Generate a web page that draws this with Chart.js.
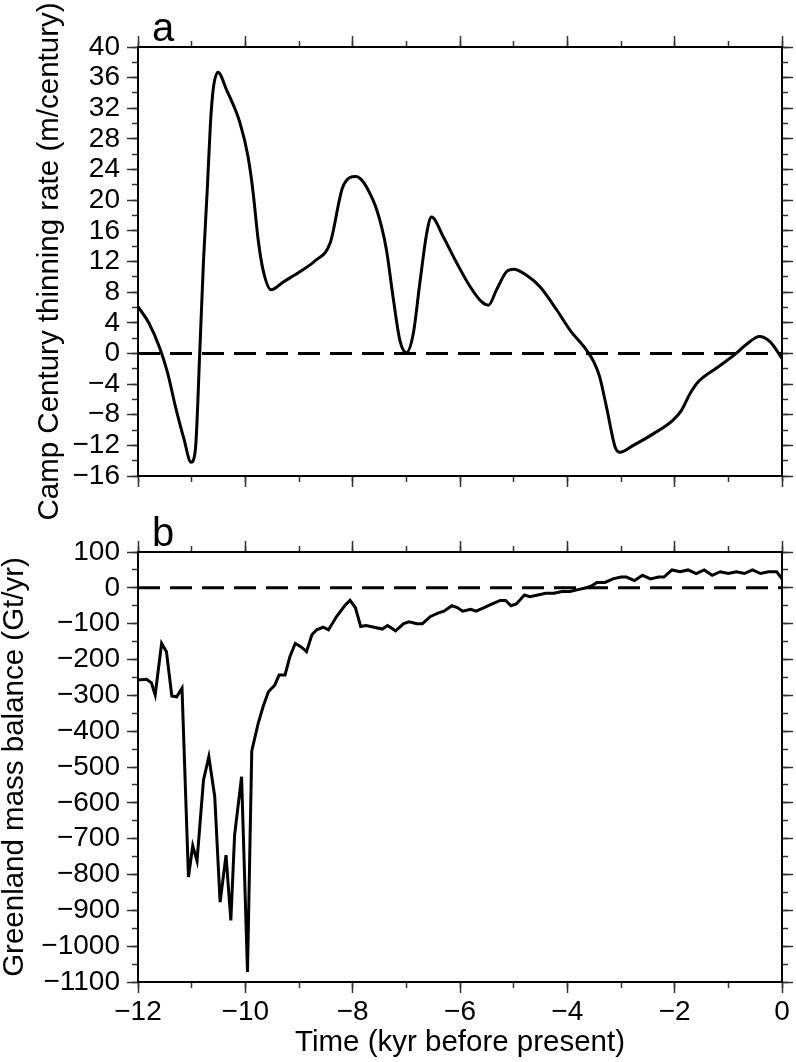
<!DOCTYPE html>
<html>
<head>
<meta charset="utf-8">
<title>Camp Century thinning rate and Greenland mass balance</title>
<script src="https://cdn.jsdelivr.net/npm/chart.js@4.4.1/dist/chart.umd.min.js"></script>
<style>
  html, body { margin: 0; padding: 0; background: #fff; }
  #wrap { position: relative; width: 796px; height: 1062px; }
  canvas { position: absolute; left: 0; }
  #chart-a { top: 0; }
  #chart-b { top: 500px; }
</style>
</head>
<body>
<div id="wrap">
  <canvas id="chart-a" width="796" height="530"></canvas>
  <canvas id="chart-b" width="796" height="562"></canvas>
</div>
<script>
// panel a: Camp Century thinning rate (m/century)
const thinTime = [-12, -11.8, -11.6, -11.45, -11.3, -11.15, -11.01, -10.93, -10.85, -10.78, -10.71,
  -10.65, -10.6, -10.51, -10.35, -10.1, -9.95, -9.86, -9.76, -9.67, -9.52, -9.3, -9.0, -8.7,
  -8.42, -8.18, -7.94, -7.62, -7.46, -7.37, -7.24, -7.12, -7.0, -6.87, -6.75, -6.62, -6.53,
  -6.31, -6.06, -5.81, -5.6, -5.47, -5.32, -5.13, -5.0, -4.76, -4.51, -4.2, -3.95, -3.64,
  -3.5, -3.4, -3.27, -3.11, -3.02, -2.77, -2.4, -2.03, -1.87, -1.71, -1.56, -1.22, -0.87,
  -0.66, -0.42, -0.22, 0];
const thinRate = [6.1, 4.0, 0.8, -2.5, -7, -11, -14.2, -12.5, 0, 12, 21.3,
  30, 34.4, 36.7, 34.4, 30.1, 25.7, 21.3, 14.8, 10.9, 8.3, 9.3, 10.6, 12.1,
  14.4, 21.8, 23.1, 20.0, 16.5, 13.5, 7.0, 1.7, 0.1, 2.6, 9.1, 15.7, 17.8,
  15.2, 11.8, 8.7, 6.75, 6.3, 8.3, 10.7, 11.0, 10.2, 8.7, 5.7, 3.05, 0.4,
  -1.2, -3.0, -7.0, -12.2, -12.9, -12.0, -10.5, -8.7, -7.4, -5.2, -3.7, -1.9, -0.1,
  1.2, 2.2, 1.5, -0.65];

// panel b: Greenland mass balance (Gt/yr)
const massTime = [-12, -11.84, -11.75, -11.68, -11.56, -11.47, -11.37, -11.28, -11.18, -11.06,
  -10.98, -10.9, -10.78, -10.68, -10.57, -10.47, -10.36, -10.27, -10.2, -10.07, -9.96, -9.88,
  -9.76, -9.67, -9.57, -9.45, -9.37, -9.26, -9.17, -9.07, -8.96, -8.86, -8.76, -8.67, -8.55,
  -8.45, -8.3, -8.15, -8.05, -7.95, -7.85, -7.75, -7.6, -7.45, -7.35, -7.2, -7.05, -6.95,
  -6.8, -6.7, -6.55, -6.4, -6.3, -6.15, -6.05, -5.95, -5.8, -5.7, -5.55, -5.4, -5.25, -5.15,
  -5.05, -4.95, -4.8, -4.7, -4.55, -4.4, -4.25, -4.1, -3.95, -3.8, -3.65, -3.55, -3.45, -3.3,
  -3.15, -3.0, -2.9, -2.75, -2.6, -2.45, -2.3, -2.2, -2.05, -1.9, -1.75, -1.6, -1.45, -1.3,
  -1.15, -1.0, -0.85, -0.7, -0.55, -0.4, -0.25, -0.1, 0];
const massBalance = [-257, -255, -265, -299, -155, -178, -302, -304, -280, -807,
  -720, -762, -537, -471, -583, -877, -746, -928, -690, -527, -1072, -455,
  -378, -332, -290, -271, -243, -243, -192, -155, -165, -178, -131, -117, -110,
  -117, -80, -50, -35, -55, -108, -105, -110, -115, -105, -120, -100, -95,
  -100, -100, -80, -70, -65, -50, -55, -65, -60, -65, -55, -45, -35, -35,
  -50, -45, -20, -25, -20, -15, -15, -10, -10, -5, 0, 5, 15, 15,
  25, 30, 30, 20, 35, 25, 30, 30, 50, 45, 50, 40, 50, 35,
  45, 40, 45, 40, 50, 40, 45, 45, 25];

// axis ranges and tick steps [min, max, major, minor]
const timeAxis = [-12, 0, 2, 1];
const rateAxis = [-16, 40, 4, 2];
const massAxis = [-1100, 100, 100, 50];

const FONT = '"Liberation Sans", Arial, Helvetica, sans-serif';

function minusSign(v) {
  return String(v).replace('-', '\u2212');
}

// one axis edge; major edges carry the border, minor edges have zero size
function edge(position, range, major, size, labels, title) {
  const horizontal = position === 'top' || position === 'bottom';
  const cfg = {
    type: 'linear',
    position: position,
    min: range[0],
    max: range[1],
    weight: major ? 1 : 0,
    ticks: {
      stepSize: major ? range[2] : range[3],
      display: !!labels,
      autoSkip: false,
      maxRotation: 0,
      padding: horizontal ? 2 : 7,
      color: '#000',
      font: { family: FONT, size: 28 },
      callback: minusSign
    },
    grid: {
      drawOnChartArea: false,
      drawTicks: true,
      tickLength: major ? 11 : 6,
      tickColor: '#333',
      tickWidth: 1.5
    },
    border: { display: major, color: '#000', width: 2 },
    afterFit: function(scale) {
      if (horizontal) scale.height = size;
      else scale.width = size;
    }
  };
  if (title) {
    cfg.title = {
      display: true,
      text: title.text,
      color: '#000',
      font: { family: FONT, size: 29.5, lineHeight: 1 },
      padding: title.padding
    };
  }
  return cfg;
}

const panelLetter = {
  id: 'panelLetter',
  afterDraw(chart, args, opts) {
    const ctx = chart.ctx;
    ctx.save();
    ctx.font = '40px ' + FONT;
    ctx.fillStyle = '#000';
    ctx.textBaseline = 'alphabetic';
    ctx.fillText(opts.text, chart.chartArea.left + 14, chart.chartArea.top - 6);
    ctx.restore();
  }
};

function series(xs, ys) {
  return xs.map((x, i) => ({ x: x, y: ys[i] }));
}

function zeroLine() {
  return {
    data: [{ x: timeAxis[0], y: 0 }, { x: timeAxis[1], y: 0 }],
    borderColor: '#000',
    borderWidth: 3,
    borderDash: [22, 10],
    pointRadius: 0,
    tension: 0
  };
}

function makePanel(canvasId, letter, xs, ys, yRange, smooth, sizes, yTitle, xTitle) {
  const ctx = document.getElementById(canvasId).getContext('2d');
  return new Chart(ctx, {
    type: 'line',
    data: {
      datasets: [
        zeroLine(),
        {
          data: series(xs, ys),
          borderColor: '#000',
          borderWidth: 3,
          pointRadius: 0,
          cubicInterpolationMode: smooth ? 'monotone' : 'default',
          tension: smooth ? 0.4 : 0
        }
      ]
    },
    options: {
      responsive: false,
      animation: false,
      devicePixelRatio: 1,
      layout: { padding: 0 },
      plugins: {
        legend: { display: false },
        tooltip: { enabled: false },
        panelLetter: { text: letter }
      },
      scales: {
        x: edge('bottom', timeAxis, true, sizes.bottom, !!xTitle, xTitle),
        xMinor: edge('bottom', timeAxis, false, 0),
        xTop: edge('top', timeAxis, true, sizes.top),
        xTopMinor: edge('top', timeAxis, false, 0),
        y: edge('left', yRange, true, 138, true, yTitle),
        yMinor: edge('left', yRange, false, 0),
        yRight: edge('right', yRange, true, 14),
        yRightMinor: edge('right', yRange, false, 0)
      }
    },
    plugins: [panelLetter]
  });
}

// panel a canvas is taller than its slot so the long y title is not cut
makePanel('chart-a', 'a', thinTime, thinRate, rateAxis, true,
  { top: 47, bottom: 54 },
  { text: 'Camp Century thinning rate (m/century)', padding: { top: 35 } });

makePanel('chart-b', 'b', massTime, massBalance, massAxis, false,
  { top: 52, bottom: 80 },
  { text: 'Greenland mass balance (Gt/yr)', padding: { top: 0 } },
  { text: 'Time (kyr before present)', padding: { bottom: 4 } });
</script>
</body>
</html>
